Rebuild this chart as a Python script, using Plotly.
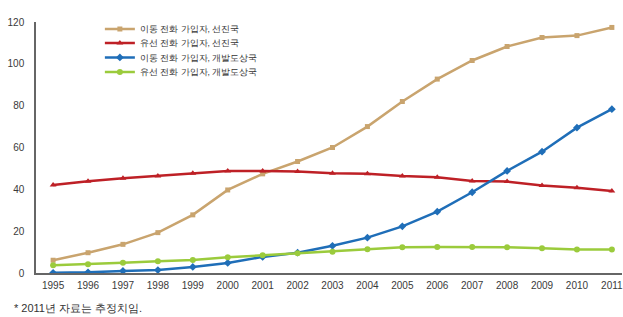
import plotly.graph_objects as go

years = list(range(1995, 2012))
mobile_developed = [6.1, 9.7, 13.7, 19.3, 27.8, 39.7, 47.4, 53.3, 60.0, 70.0, 82.0, 92.7, 101.6, 108.3, 112.6, 113.5, 117.4]
fixed_developed = [42.1, 43.9, 45.3, 46.4, 47.7, 48.8, 48.8, 48.5, 47.7, 47.4, 46.4, 45.8, 44.0, 43.7, 41.8, 40.8, 39.2]
mobile_developing = [0.1, 0.3, 1.0, 1.4, 2.9, 4.8, 7.7, 9.7, 13.0, 16.9, 22.3, 29.3, 38.6, 48.8, 58.0, 69.5, 78.3]
fixed_developing = [3.7, 4.2, 4.9, 5.6, 6.2, 7.5, 8.5, 9.4, 10.2, 11.3, 12.3, 12.4, 12.4, 12.3, 11.8, 11.2, 11.2]

names = ["이동 전화 가입자, 선진국", "유선 전화 가입자, 선진국", "이동 전화 가입자, 개발도상국", "유선 전화 가입자, 개발도상국"]
series = [mobile_developed, fixed_developed, mobile_developing, fixed_developing]
colors = ["#C9A46E", "#BE2026", "#1F6EB8", "#9BCB3C"]
symbols = ["square", "triangle-up", "diamond", "circle"]
sizes = [5, 6, 6, 6]
legend_ids = ["legend", "legend2", "legend3", "legend4"]
legend_y = [0.972, 0.916, 0.859, 0.801]

fig = go.Figure()
for n, s, c, sym, sz, lg in zip(names, series, colors, symbols, sizes, legend_ids):
    fig.add_trace(go.Scatter(x=years, y=s, name=n, mode="lines+markers", legend=lg,
                             line=dict(color=c, width=2.5),
                             marker=dict(symbol=sym, size=sz, color=c)))

font = "Liberation Sans, Arial, sans-serif"
legend_common = dict(x=0.109, xanchor="left", yanchor="middle", bgcolor="rgba(0,0,0,0)",
                     font=dict(size=8.5, color="#333333"), itemwidth=30)
legends = {lg: dict(y=ly, **legend_common) for lg, ly in zip(legend_ids, legend_y)}

fig.update_layout(
    width=623, height=317,
    margin=dict(l=36, r=1, t=22, b=44, autoexpand=False),
    paper_bgcolor="white", plot_bgcolor="white",
    font=dict(family=font, size=10, color="#333333"),
    showlegend=True,
    **legends,
    xaxis=dict(range=[1994.51, 2011.29], tickmode="array", tickvals=years,
               ticktext=[str(y) for y in years], showgrid=False, zeroline=False,
               showline=True, linecolor="#666666", linewidth=1.5, ticks="",
               automargin=False, ticklabeloverflow="allow", ticklabelstandoff=2,
               tickfont=dict(size=10, color="#3a3a3a")),
    yaxis=dict(range=[0, 120], tickvals=[0, 20, 40, 60, 80, 100, 120], showgrid=False,
               zeroline=False, showline=True, linecolor="#666666", linewidth=1.5,
               automargin=False, ticks="", ticklabelstandoff=8,
               tickfont=dict(size=10, color="#3a3a3a")),
    annotations=[dict(text="* 2011년 자료는 추정치임.", xref="paper", yref="paper",
                      x=-0.041, y=-0.14, xanchor="left", yanchor="middle", showarrow=False,
                      font=dict(size=11, color="#333333"))],
)
fig.write_html("out.html", config={"displayModeBar": False},
               post_script="document.body.style.margin='0';document.body.style.overflow='hidden';")
